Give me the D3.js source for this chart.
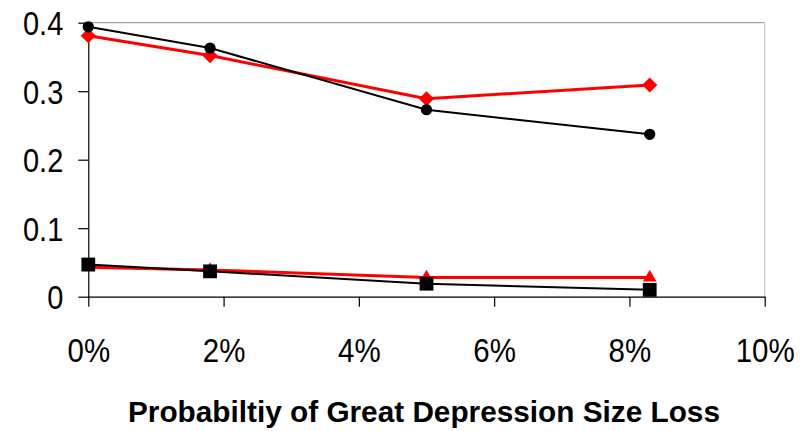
<!DOCTYPE html>
<html>
<head>
<meta charset="utf-8">
<script src="https://cdn.jsdelivr.net/npm/d3@7"></script>
<style>
  body { margin: 0; background: #fff; }
  svg text { font-family: "Liberation Sans", Arial, sans-serif; fill: #000; }
</style>
</head>
<body>
<div id="graphic"></div>
<script>
// probability of a great depression size loss (x) for the four series
var probs = [0, 0.018, 0.05, 0.083];
var blackUpper = [0.394, 0.363, 0.273, 0.237];   // circles
var redUpper = [0.381, 0.352, 0.289, 0.309];     // diamonds
var blackLower = [0.047, 0.037, 0.019, 0.010];   // squares
var redLower = [0.043, 0.039, 0.028, 0.028];     // triangles
var xTicks = [0, 0.02, 0.04, 0.06, 0.08, 0.10];
var yTicks = [0, 0.1, 0.2, 0.3, 0.4];
var xTitle = "Probabiltiy of Great Depression Size Loss";

var w = 804, h = 431;
var padLeft = 88.3, padRight = 764.7, padTop = 22.7, padBottom = 296.7;
var stretch = 1.15; // text in the original is a bit taller than normal

var svg = d3.select("#graphic")
    .append("svg")
    .attr("width", w)
    .attr("height", h);

var xScale = d3.scaleLinear().domain([0, 0.1]).range([padLeft, padRight]);
var yScale = d3.scaleLinear().domain([0, 0.4]).range([padBottom, padTop]);

// plot frame (top and right in grey)
svg.append("line")
    .attr("x1", padLeft).attr("x2", padRight)
    .attr("y1", padTop).attr("y2", padTop)
    .attr("stroke", "#8a8a8a").attr("stroke-width", 1);
svg.append("line")
    .attr("x1", padRight).attr("x2", padRight)
    .attr("y1", padTop).attr("y2", padBottom)
    .attr("stroke", "#bdbdbd").attr("stroke-width", 1);

var xAxis = svg.append("g")
    .attr("transform", "translate(0," + padBottom + ")")
    .call(d3.axisBottom(xScale).tickValues(xTicks).tickSize(10).tickSizeOuter(0)
        .tickFormat(d3.format(".0%")));
xAxis.selectAll("text")
    .attr("y", 65 / stretch).attr("dy", null)
    .attr("transform", "scale(1," + stretch + ")")
    .style("font-size", "29.5px");

var yAxis = svg.append("g")
    .attr("transform", "translate(" + padLeft + ",0)")
    .call(d3.axisLeft(yScale).tickValues(yTicks).tickSize(10).tickSizeOuter(0)
        .tickFormat(function(d){ return d === 0 ? "0" : d3.format(".1f")(d); }));
yAxis.selectAll("text")
    .attr("x", -25).attr("dy", "0.36em")
    .attr("transform", "scale(1," + stretch + ")")
    .style("font-size", "29px");

svg.selectAll(".domain, .tick line").attr("stroke", "#000").attr("stroke-width", 1.2);
svg.selectAll("g").attr("font-family", null).attr("font-size", null);

function drawSeries(values, color, width, symbolType, size, rotate){
    var pts = probs.map(function(p, i){ return [p, values[i]]; });
    var line = d3.line()
        .x(function(d){ return xScale(d[0]); })
        .y(function(d){ return yScale(d[1]); });
    svg.append("path")
        .datum(pts)
        .attr("d", line)
        .attr("fill", "none")
        .attr("stroke", color)
        .attr("stroke-width", width);
    svg.selectAll(null)
        .data(pts)
        .enter()
        .append("path")
        .attr("d", d3.symbol().type(symbolType).size(size))
        .attr("transform", function(d){
            return "translate(" + xScale(d[0]) + "," + yScale(d[1]) + ") rotate(" + rotate + ")";
        })
        .attr("fill", color);
}

drawSeries(redUpper, "#ff0000", 3, d3.symbolSquare, 115, 45);
drawSeries(redLower, "#ff0000", 3, d3.symbolTriangle, 80, 0);
drawSeries(blackUpper, "#000", 2, d3.symbolCircle, 100, 0);
drawSeries(blackLower, "#000", 2, d3.symbolSquare, 190, 0);

svg.append("text")
    .attr("x", 424)
    .attr("y", 421.7 / stretch)
    .attr("transform", "scale(1," + stretch + ")")
    .attr("text-anchor", "middle")
    .attr("textLength", 592)
    .attr("lengthAdjust", "spacingAndGlyphs")
    .style("font-size", "26px")
    .style("font-weight", "bold")
    .text(xTitle);
</script>
</body>
</html>
